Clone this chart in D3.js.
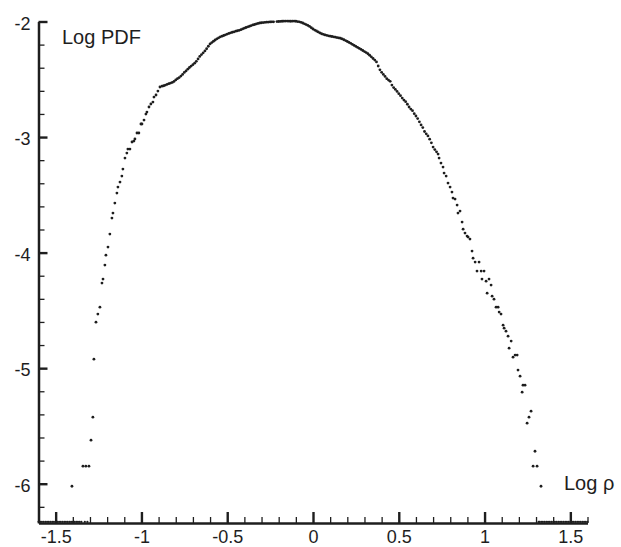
<!DOCTYPE html>
<html>
<head>
<meta charset="utf-8">
<script src="https://cdn.jsdelivr.net/npm/d3@7"></script>
<style>
  html, body { margin: 0; padding: 0; background: #fff; }
  svg { display: block; font-family: "Liberation Sans", Arial, sans-serif; }
</style>
</head>
<body>
<div id="chart"></div>
<script>
// PDF of log density: [log rho, log PDF]
const pdfPoints = [
  [-1.405,-6.022],[-1.341,-5.848],[-1.324,-5.848],[-1.306,-5.848],[-1.294,-5.623],[-1.283,-5.424],
  [-1.277,-4.922],[-1.265,-4.602],[-1.254,-4.532],[-1.242,-4.472],[-1.230,-4.264],[-1.224,-4.229],
  [-1.213,-4.108],[-1.207,-4.022],[-1.195,-3.952],[-1.184,-3.840],[-1.172,-3.701],[-1.166,-3.658],
  [-1.155,-3.571],[-1.143,-3.485],[-1.137,-3.433],[-1.125,-3.390],[-1.114,-3.338],[-1.108,-3.277],
  [-1.096,-3.182],[-1.085,-3.139],[-1.079,-3.104],[-1.067,-3.104],[-1.055,-3.043],[-1.044,-3.035],
  [-1.038,-3.017],[-1.026,-2.965],[-1.015,-2.965],[-1.003,-2.887],[-0.997,-2.887],[-0.985,-2.853],
  [-0.974,-2.801],[-0.968,-2.784],[-0.956,-2.740],[-0.945,-2.714],[-0.933,-2.697],[-0.927,-2.654],
  [-0.915,-2.636],[-0.904,-2.602],[-0.892,-2.567],[-0.880,-2.560],
  [-0.87,-2.556],[-0.86,-2.550],[-0.85,-2.544],[-0.84,-2.538],[-0.83,-2.533],[-0.82,-2.527],
  [-0.81,-2.519],[-0.80,-2.506],[-0.79,-2.495],[-0.78,-2.485],[-0.77,-2.472],[-0.76,-2.458],
  [-0.75,-2.441],[-0.74,-2.428],[-0.73,-2.413],[-0.72,-2.398],[-0.71,-2.386],[-0.70,-2.374],
  [-0.69,-2.361],[-0.68,-2.345],[-0.67,-2.324],[-0.66,-2.302],[-0.65,-2.286],[-0.64,-2.271],
  [-0.63,-2.255],[-0.62,-2.236],[-0.61,-2.214],[-0.60,-2.194],[-0.59,-2.182],[-0.58,-2.171],
  [-0.57,-2.160],[-0.56,-2.150],[-0.55,-2.141],[-0.54,-2.133],[-0.53,-2.127],[-0.52,-2.121],
  [-0.51,-2.115],[-0.50,-2.109],[-0.49,-2.103],[-0.48,-2.098],[-0.47,-2.093],[-0.46,-2.089],
  [-0.45,-2.084],[-0.44,-2.080],[-0.43,-2.076],[-0.42,-2.071],[-0.41,-2.064],[-0.40,-2.058],
  [-0.39,-2.052],[-0.38,-2.046],[-0.37,-2.041],[-0.36,-2.035],[-0.35,-2.030],[-0.34,-2.026],
  [-0.33,-2.021],[-0.32,-2.017],[-0.31,-2.013],[-0.30,-2.011],[-0.29,-2.009],[-0.28,-2.007],
  [-0.27,-2.006],[-0.26,-2.005],[-0.25,-2.004],[-0.24,-2.003],[-0.23,-2.003],[-0.21,-2.001],
  [-0.20,-2.000],[-0.19,-1.999],[-0.18,-1.998],[-0.17,-1.997],[-0.16,-1.996],[-0.15,-1.996],
  [-0.14,-1.997],[-0.13,-1.998],[-0.12,-1.997],[-0.11,-1.996],[-0.10,-1.998],[-0.09,-2.001],
  [-0.08,-2.003],[-0.07,-2.007],[-0.06,-2.013],[-0.05,-2.020],[-0.04,-2.027],[-0.03,-2.034],
  [-0.02,-2.043],[-0.01,-2.054],[0.00,-2.065],[0.01,-2.074],[0.02,-2.082],[0.03,-2.090],
  [0.04,-2.099],[0.05,-2.106],[0.06,-2.111],[0.07,-2.116],[0.08,-2.120],[0.09,-2.124],
  [0.10,-2.127],[0.11,-2.130],[0.12,-2.133],[0.13,-2.136],[0.14,-2.139],[0.15,-2.142],
  [0.16,-2.145],[0.17,-2.151],[0.18,-2.158],[0.19,-2.165],[0.20,-2.173],[0.21,-2.181],
  [0.22,-2.189],[0.23,-2.198],[0.24,-2.207],[0.25,-2.216],[0.26,-2.224],[0.27,-2.233],
  [0.28,-2.242],[0.29,-2.251],[0.30,-2.260],[0.31,-2.269],[0.32,-2.279],[0.33,-2.292],
  [0.34,-2.306],[0.35,-2.320],[0.36,-2.334],[0.37,-2.350],[0.38,-2.385],[0.39,-2.418],
  [0.40,-2.440],[0.41,-2.458],[0.42,-2.475],[0.43,-2.495],[0.44,-2.507],[0.45,-2.518],
  [0.46,-2.550],[0.47,-2.572],[0.48,-2.588],[0.49,-2.605],[0.50,-2.625],[0.51,-2.642],
  [0.52,-2.663],[0.53,-2.680],[0.54,-2.694],[0.55,-2.716],[0.56,-2.740],[0.57,-2.758],
  [0.58,-2.772],[0.59,-2.798],[0.60,-2.818],[0.61,-2.840],[0.62,-2.868],[0.63,-2.895],
  [0.64,-2.918],[0.65,-2.952],[0.66,-2.972],[0.67,-2.990],[0.68,-3.018],[0.69,-3.050],
  [0.70,-3.087],[0.71,-3.108],[0.72,-3.128],
  [0.729,-3.147],[0.735,-3.182],[0.746,-3.225],[0.758,-3.260],[0.764,-3.312],[0.776,-3.338],
  [0.787,-3.398],[0.799,-3.433],[0.810,-3.476],[0.816,-3.528],[0.828,-3.537],[0.840,-3.589],
  [0.845,-3.658],[0.857,-3.641],[0.869,-3.736],[0.875,-3.797],[0.886,-3.831],[0.898,-3.857],
  [0.904,-3.866],[0.915,-3.883],[0.927,-3.987],[0.933,-4.048],[0.945,-4.082],[0.956,-4.160],
  [0.968,-4.082],[0.980,-4.160],[0.985,-4.229],[0.997,-4.160],[1.009,-4.247],[1.015,-4.351],
  [1.026,-4.229],[1.038,-4.281],[1.044,-4.377],[1.055,-4.403],[1.067,-4.472],[1.079,-4.472],
  [1.085,-4.515],[1.096,-4.532],[1.108,-4.628],[1.114,-4.654],[1.125,-4.680],[1.137,-4.723],
  [1.143,-4.827],[1.155,-4.766],[1.166,-4.905],[1.178,-4.887],[1.190,-4.887],[1.195,-5.017],
  [1.207,-5.069],[1.219,-5.208],[1.224,-5.147],[1.236,-5.147],[1.248,-5.476],[1.259,-5.424],
  [1.271,-5.372],[1.283,-5.848],[1.294,-5.719],[1.306,-5.848],[1.329,-6.022]
];

// empty bins, drawn on the floor of the plot
const floorLevel = -6.33;
const floorRho = [
  -1.60,-1.59,-1.58,-1.57,-1.56,-1.55,-1.54,-1.53,-1.52,-1.51,-1.50,-1.49,-1.48,-1.47,-1.46,
  -1.45,-1.44,-1.43,-1.42,-1.41,-1.40,-1.39,-1.38,-1.37,-1.36,-1.35,-1.33,-1.315,
  1.315,1.32,1.33,1.34,1.35,1.36,1.37,1.38,1.39,1.40,1.41,1.42,1.43,1.44,1.45,1.46,1.47,
  1.48,1.49,1.50,1.51,1.52,1.53,1.54,1.55,1.56,1.57,1.58,1.59,1.60
];

const xMajor = [-1.5, -1, -0.5, 0, 0.5, 1, 1.5];
const xMinor = [-1.6,-1.4,-1.3,-1.2,-1.1,-0.9,-0.8,-0.7,-0.6,-0.4,-0.3,-0.2,-0.1,
                0.1,0.2,0.3,0.4,0.6,0.7,0.8,0.9,1.1,1.2,1.3,1.4,1.6];
const yMajor = [-2, -3, -4, -5, -6];
const yMinor = [-2.2,-2.4,-2.6,-2.8,-3.2,-3.4,-3.6,-3.8,-4.2,-4.4,-4.6,-4.8,
                -5.2,-5.4,-5.6,-5.8,-6.2];

const W = 621, H = 547;
const svg = d3.select('#chart').append('svg').attr('width', W).attr('height', H);

const x = d3.scaleLinear().domain([-1.6, 1.6]).range([38.5, 587.5]);
const y = d3.scaleLinear().domain([-2, -6.34]).range([21.5, 523]);
const ink = '#1e1e1e';
const plain = d => String(d);   // plain hyphen minus, as in the original

// X axis: minor ticks, then major ticks with labels
svg.append('g').attr('transform', `translate(0,${y(-6.34)})`)
  .call(d3.axisBottom(x).tickValues(xMinor).tickSizeInner(-6).tickSizeOuter(0).tickFormat(''))
  .call(g => g.select('.domain').attr('stroke', ink).attr('stroke-width', 2.5))
  .call(g => g.selectAll('.tick line').attr('stroke', ink).attr('stroke-width', 1.3));

svg.append('g').attr('transform', `translate(0,${y(-6.34)})`)
  .call(d3.axisBottom(x).tickValues(xMajor).tickSizeInner(-11).tickSizeOuter(0).tickPadding(7)
    .tickFormat(plain))
  .call(g => g.select('.domain').remove())
  .call(g => g.selectAll('.tick line').attr('stroke', ink).attr('stroke-width', 2.4))
  .selectAll('text').attr('fill', ink).style('font-size', '18px')
  .style('font-family', '"Liberation Sans", Arial, sans-serif');

// Y axis
svg.append('g').attr('transform', `translate(${x(-1.6)},0)`)
  .call(d3.axisLeft(y).tickValues(yMinor).tickSizeInner(-6).tickSizeOuter(0).tickFormat(''))
  .call(g => g.select('.domain').attr('stroke', ink).attr('stroke-width', 2.5))
  .call(g => g.selectAll('.tick line').attr('stroke', ink).attr('stroke-width', 1.3));

svg.append('g').attr('transform', `translate(${x(-1.6)},0)`)
  .call(d3.axisLeft(y).tickValues(yMajor).tickSizeInner(-9).tickSizeOuter(0).tickPadding(8)
    .tickFormat(plain))
  .call(g => g.select('.domain').remove())
  .call(g => g.selectAll('.tick line').attr('stroke', ink).attr('stroke-width', 2.4))
  .selectAll('text').attr('fill', ink).attr('dy', '0.42em').style('font-size', '18px')
  .style('font-family', '"Liberation Sans", Arial, sans-serif');

// Axis titles
svg.append('text').attr('x', 62).attr('y', 44)
  .attr('fill', ink).attr('font-size', '20px').text('Log PDF');
svg.append('text').attr('x', 564).attr('y', 490)
  .attr('fill', ink).attr('font-size', '20px').text('Log ρ');

// Data points
svg.append('g').selectAll('circle').data(pdfPoints).join('circle')
  .attr('cx', d => x(d[0])).attr('cy', d => y(d[1]))
  .attr('r', 1.4).attr('fill', ink);

svg.append('g').selectAll('circle').data(floorRho).join('circle')
  .attr('cx', d => x(d)).attr('cy', y(floorLevel))
  .attr('r', 1.1).attr('fill', ink);
</script>
</body>
</html>
